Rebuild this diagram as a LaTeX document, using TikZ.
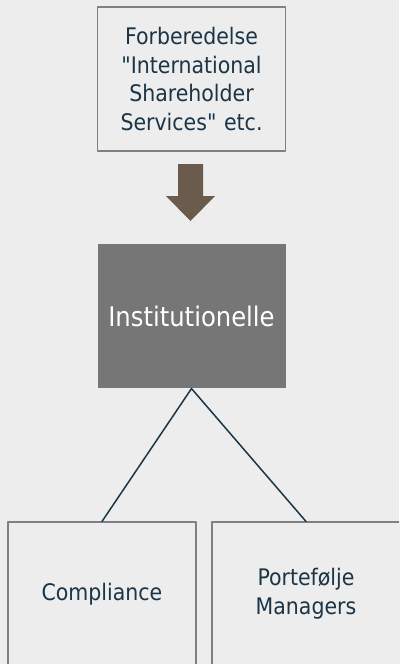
\documentclass[tikz,border=0pt]{standalone}
\usepackage{fontspec}
\newfontfamily\boxfont{DejaVu Sans Condensed}
\usetikzlibrary{positioning}
\definecolor{pagegray}{HTML}{EDEDED}
\definecolor{framegray}{HTML}{808080}
\definecolor{darkbox}{HTML}{767676}
\definecolor{inktext}{HTML}{1B3547}
\definecolor{arrowbrown}{HTML}{6B5B4C}

\begin{document}
\begin{tikzpicture}[x=1pt,y=-1pt,line cap=round,line join=round,
    box/.style={draw=framegray,line width=1.1pt,fill=pagegray,minimum width=188pt,minimum height=144pt,
      text width=184pt,align=center,inner sep=0pt,text=inktext,font=\boxfont\fontsize{22.8}{28.7}\selectfont},
    darkbox/.style={box,draw=none,fill=darkbox,text=white,font=\boxfont\fontsize{27}{29}\selectfont},
    link/.style={draw=inktext,line width=1.5pt}]
    \clip (0,0) rectangle (399,664);
    \fill[pagegray] (0,0) rectangle (399,664);
    \node[box] (prep) at (191.5,79) {Forberedelse\\"International\\Shareholder\\Services" etc.};
    \fill[arrowbrown] (178,164) -- (203,164) -- (203,196) -- (215,196) -- (190.5,221) -- (166,196) -- (178,196) -- cycle;
    \node[darkbox] (inst) at (191.5,316) {Institutionelle};
    \node[box] (compl) at (102,594) {Compliance};
    \node[box] (pm) at (306,594) {Portefølje\\Managers};
    \draw[link] (compl.north) -- (inst.south) -- (pm.north);
  \end{tikzpicture}
\end{document}
